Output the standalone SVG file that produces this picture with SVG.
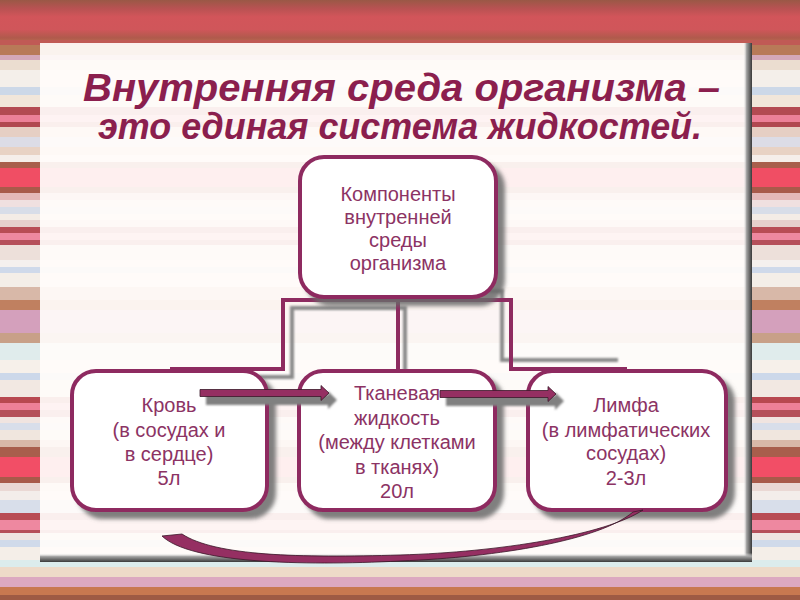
<svg xmlns="http://www.w3.org/2000/svg" width="800" height="600" viewBox="0 0 800 600">
<defs>
<linearGradient id="topband" x1="0" y1="0" x2="0" y2="1">
<stop offset="0" stop-color="#9A5846"/>
<stop offset="0.2" stop-color="#B85252"/>
<stop offset="0.4" stop-color="#D2555A"/>
<stop offset="0.7" stop-color="#D0565A"/>
<stop offset="0.9" stop-color="#B05A4C"/>
<stop offset="1" stop-color="#B86A50"/>
</linearGradient>
<linearGradient id="redge" x1="0" y1="0" x2="1" y2="0">
<stop offset="0" stop-color="#ffffff" stop-opacity="0"/>
<stop offset="0.4" stop-color="#a0a0a0"/>
<stop offset="1" stop-color="#3a3a3a"/>
</linearGradient>
<linearGradient id="bedge" x1="0" y1="0" x2="0" y2="1">
<stop offset="0" stop-color="#ffffff" stop-opacity="0"/>
<stop offset="0.4" stop-color="#a0a0a0"/>
<stop offset="1" stop-color="#3a3a3a"/>
</linearGradient>
<filter id="sh" x="-10%" y="-10%" width="130%" height="130%">
<feDropShadow dx="7" dy="7" stdDeviation="2" flood-color="#6a6a6a" flood-opacity="0.85"/>
</filter>
<filter id="blur1"><feGaussianBlur stdDeviation="1"/></filter>
<style>
.box{fill:#ffffff;stroke:#8E2B60;stroke-width:4}
.lbl{font-family:"Liberation Sans",Arial,sans-serif;font-size:20px;fill:#8C3364;text-anchor:middle}
.title{font-family:"Liberation Sans",Arial,sans-serif;font-weight:bold;font-style:italic;fill:#8B1F4E}
.conn{fill:none;stroke:#8E2B60;stroke-width:4}
.cshadow{fill:none;stroke:#8a8a8a;stroke-width:4}
.arrow{fill:#952F62;stroke:#3a1628;stroke-width:0.8}
.ashadow{fill:#808080}
</style>
</defs>

<!-- background stripes -->
<g id="background">
<rect x="0" y="0" width="800" height="42" fill="url(#topband)"/>
<rect x="0" y="40" width="800" height="5" fill="#C05A55"/>
<rect x="0" y="45" width="800" height="10" fill="#B87A58"/>
<rect x="0" y="55" width="800" height="5" fill="#D4A8B8"/>
<rect x="0" y="60" width="800" height="10" fill="#EBDDD0"/>
<rect x="0" y="70" width="800" height="17" fill="#F4EFEA"/>
<rect x="0" y="87" width="800" height="8" fill="#CCD8E8"/>
<rect x="0" y="95" width="800" height="12" fill="#F1E6DA"/>
<rect x="0" y="107" width="800" height="8" fill="#B34A52"/>
<rect x="0" y="115" width="800" height="7" fill="#EC8098"/>
<rect x="0" y="122" width="800" height="5" fill="#B04850"/>
<rect x="0" y="127" width="800" height="10" fill="#E6CFC4"/>
<rect x="0" y="137" width="800" height="10" fill="#DCDCE6"/>
<rect x="0" y="147" width="800" height="8" fill="#E8D2C4"/>
<rect x="0" y="155" width="800" height="7" fill="#F5EEEA"/>
<rect x="0" y="162" width="800" height="6" fill="#A85E4C"/>
<rect x="0" y="168" width="800" height="19" fill="#F04E64"/>
<rect x="0" y="187" width="800" height="6" fill="#A85A4A"/>
<rect x="0" y="193" width="800" height="7" fill="#E4B8B8"/>
<rect x="0" y="200" width="800" height="7" fill="#F0E0E0"/>
<rect x="0" y="207" width="800" height="7" fill="#D8DDE8"/>
<rect x="0" y="214" width="800" height="6" fill="#F4ECE6"/>
<rect x="0" y="220" width="800" height="7" fill="#E6CFCC"/>
<rect x="0" y="227" width="800" height="6" fill="#B84C55"/>
<rect x="0" y="233" width="800" height="7" fill="#EE88A0"/>
<rect x="0" y="240" width="800" height="5" fill="#B5505A"/>
<rect x="0" y="245" width="800" height="15" fill="#EDE0DA"/>
<rect x="0" y="260" width="800" height="7" fill="#F5F0EE"/>
<rect x="0" y="267" width="800" height="6" fill="#CFD9EA"/>
<rect x="0" y="273" width="800" height="14" fill="#F4EEE8"/>
<rect x="0" y="287" width="800" height="13" fill="#D8B8A8"/>
<rect x="0" y="300" width="800" height="10" fill="#C08060"/>
<rect x="0" y="310" width="800" height="23" fill="#D4A0BC"/>
<rect x="0" y="333" width="800" height="10" fill="#C8A088"/>
<rect x="0" y="343" width="800" height="17" fill="#E0ECEC"/>
<rect x="0" y="360" width="800" height="13" fill="#F6F0EA"/>
<rect x="0" y="373" width="800" height="7" fill="#CCD8EA"/>
<rect x="0" y="380" width="800" height="17" fill="#F2E8E2"/>
<rect x="0" y="397" width="800" height="6" fill="#B84850"/>
<rect x="0" y="403" width="800" height="7" fill="#EE8098"/>
<rect x="0" y="410" width="800" height="7" fill="#B4505A"/>
<rect x="0" y="417" width="800" height="6" fill="#F0E4E0"/>
<rect x="0" y="423" width="800" height="7" fill="#D8DEEA"/>
<rect x="0" y="430" width="800" height="10" fill="#F0E6DE"/>
<rect x="0" y="440" width="800" height="7" fill="#D8B8A8"/>
<rect x="0" y="447" width="800" height="10" fill="#A85E4C"/>
<rect x="0" y="457" width="800" height="20" fill="#F24E66"/>
<rect x="0" y="477" width="800" height="6" fill="#A85A4A"/>
<rect x="0" y="483" width="800" height="8" fill="#EAD8D4"/>
<rect x="0" y="491" width="800" height="9" fill="#F3EDEA"/>
<rect x="0" y="500" width="800" height="13" fill="#D8DEEA"/>
<rect x="0" y="513" width="800" height="7" fill="#B84C55"/>
<rect x="0" y="520" width="800" height="10" fill="#EE88A0"/>
<rect x="0" y="530" width="800" height="3" fill="#B5505A"/>
<rect x="0" y="533" width="800" height="7" fill="#EFE6E2"/>
<rect x="0" y="540" width="800" height="7" fill="#D0DAEA"/>
<rect x="0" y="547" width="800" height="13" fill="#F4EEE8"/>
<rect x="0" y="560" width="800" height="7" fill="#DCECEC"/>
<rect x="0" y="567" width="800" height="10" fill="#EEDAC8"/>
<rect x="0" y="577" width="800" height="10" fill="#DCA8C0"/>
<rect x="0" y="587" width="800" height="8" fill="#C87850"/>
<rect x="0" y="595" width="800" height="5" fill="#9E5A44"/>
</g>

<!-- panel -->
<g id="panel">
<rect x="40" y="43" width="712" height="519" fill="#FFFCFA" fill-opacity="0.93"/>
<rect x="743" y="43" width="9" height="519" fill="url(#redge)"/>
<rect x="40" y="553" width="712" height="9" fill="url(#bedge)"/>
</g>

<!-- title -->
<g id="title">
<text class="title" x="83" y="101" font-size="38" textLength="637" lengthAdjust="spacingAndGlyphs">Внутренняя среда организма –</text>
<text class="title" x="98" y="139" font-size="36" textLength="604" lengthAdjust="spacingAndGlyphs">это единая система жидкостей.</text>
</g>

<!-- connectors -->
<g id="connectors">
<g filter="url(#blur1)">
<path class="cshadow" d="M407,308 H292 V377 H179"/>
<path class="cshadow" d="M405,306 V378"/>
<path class="cshadow" d="M389,291 H502 V360 H618"/>
</g>
<path class="conn" d="M398,300 H283 V369 H170"/>
<path class="conn" d="M398,300 V371"/>
<path class="conn" d="M398,300 H511 V369 H627"/>
</g>

<!-- nodes -->
<g id="node-top">
<rect class="box" x="300" y="157" width="196" height="140" rx="24" filter="url(#sh)"/>
<text class="lbl" x="398" y="201">Компоненты</text>
<text class="lbl" x="398" y="224">внутренней</text>
<text class="lbl" x="398" y="247">среды</text>
<text class="lbl" x="398" y="270">организма</text>
</g>
<g id="node-blood">
<rect class="box" x="72" y="371" width="195" height="139" rx="24" filter="url(#sh)"/>
<text class="lbl" x="169" y="412">Кровь</text>
<text class="lbl" x="169" y="437">(в сосудах и</text>
<text class="lbl" x="169" y="461">в сердце)</text>
<text class="lbl" x="169" y="485">5л</text>
</g>
<g id="node-tissue">
<rect class="box" x="299" y="371" width="196" height="139" rx="24" filter="url(#sh)"/>
<text class="lbl" x="397" y="400">Тканевая</text>
<text class="lbl" x="397" y="425">жидкость</text>
<text class="lbl" x="397" y="449">(между клетками</text>
<text class="lbl" x="397" y="474">в тканях)</text>
<text class="lbl" x="397" y="498">20л</text>
</g>
<g id="node-lymph">
<rect class="box" x="528" y="371" width="198" height="139" rx="24" filter="url(#sh)"/>
<text class="lbl" x="626" y="412">Лимфа</text>
<text class="lbl" x="626" y="437">(в лимфатических</text>
<text class="lbl" x="626" y="460">сосудах)</text>
<text class="lbl" x="626" y="485">2-3л</text>
</g>

<!-- arrows -->
<g id="arrows">
<g filter="url(#blur1)">
<path class="ashadow" d="M206,395 H328 V391 L337,400 L328,409 V405 H206 Z"/>
<path class="ashadow" d="M446,396 H555 V392 L564,401 L555,410 V406 H446 Z"/>
</g>
<path class="arrow" d="M200,389.5 H321 V385.5 L329,393 L321,400.5 V396.5 H200 Z"/>
<path class="arrow" d="M440,390.5 H548 V386.5 L556,394 L548,401.5 V397.5 H440 Z"/>
<path class="arrow" d="M182,534 C215,556 300,558 400,555 C500,552 605,535 643,510 L633,512 C600,540 500,557 400,561 C300,566 190,563 162,536 Z"/>
</g>
</svg>
